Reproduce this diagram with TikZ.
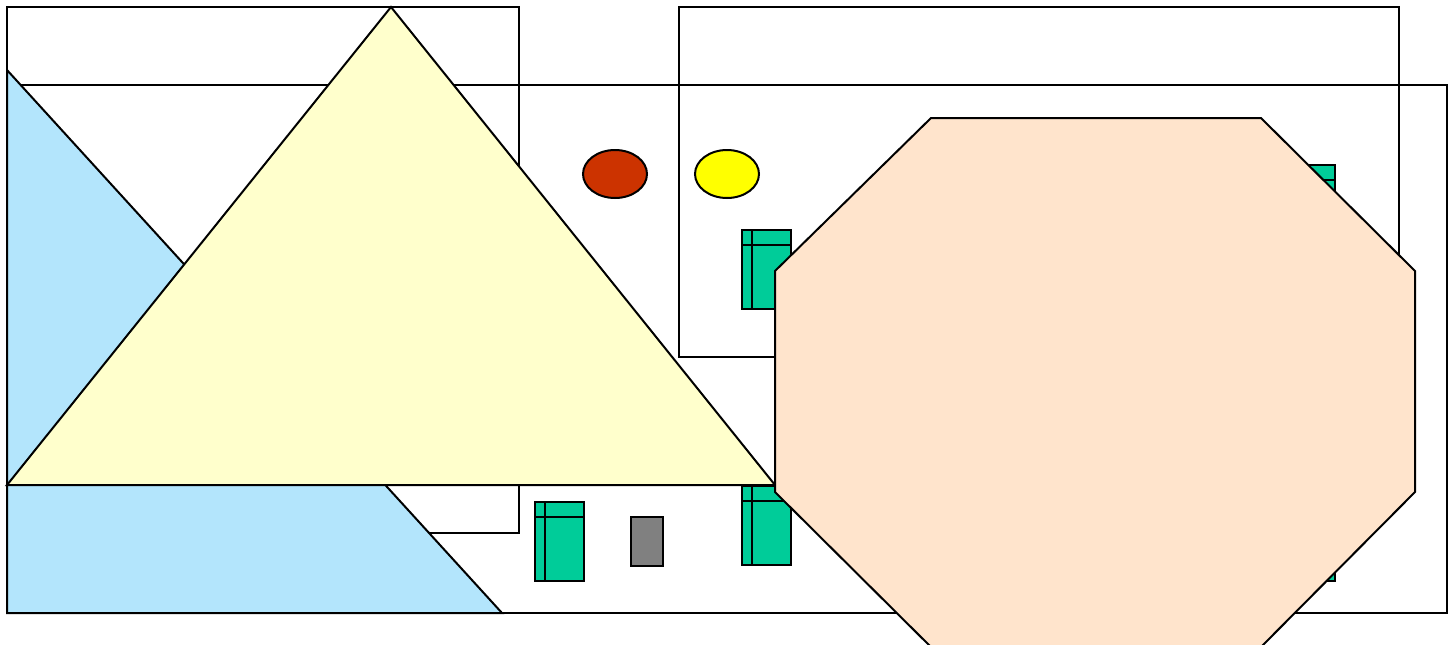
\documentclass[tikz,border=0pt]{standalone}
\usepackage{tikz}
\usetikzlibrary{positioning}
\usepackage{xcolor}
\definecolor{skyfill}{RGB}{179,229,252}
\definecolor{lemonfill}{RGB}{255,255,204}
\definecolor{peachfill}{RGB}{255,228,204}
\definecolor{rustfill}{RGB}{204,51,0}
\definecolor{jadefill}{RGB}{0,204,153}
\definecolor{sunfill}{RGB}{255,255,0}
\tikzset{outline/.style={draw=black, line width=1pt, line join=miter}}

\begin{document}
\begin{tikzpicture}[x=0.5pt, y=-0.5pt]
\useasboundingbox (0,0) rectangle (1452,644);
% frames
\draw[outline] (7,85) rectangle (1447,613);
\draw[outline] (7,7) rectangle (519,533);
\draw[outline] (679,7) rectangle (1399,357);
% blue wedge
\filldraw[outline, fill=skyfill] (7,70) -- (502,613) -- (7,613) -- cycle;
% ellipses
\filldraw[outline, fill=rustfill] (615,174) ellipse [x radius=32, y radius=24];
\filldraw[outline, fill=sunfill] (727,174) ellipse [x radius=32, y radius=24];
% green boxes
\foreach \bx/\by in {742/230, 742/486, 535/502, 1286/165, 1286/502} {
  \filldraw[outline, fill=jadefill] (\bx,\by) rectangle ++(49,79);
  \draw[outline] (\bx+10,\by) -- ++(0,79);
  \draw[outline] (\bx,\by+15) -- ++(49,0);
}
\filldraw[outline, fill=gray] (631,517) rectangle (663,566);
% big triangle
\filldraw[outline, fill=lemonfill] (391,7) -- (775,485) -- (7,485) -- cycle;
% octagon
\filldraw[outline, fill=peachfill] (931,118) -- (1261,118) -- (1415,271) -- (1415,492)
  -- (1256,652) -- (936,652) -- (775,492) -- (775,271) -- cycle;
\end{tikzpicture}
\end{document}
